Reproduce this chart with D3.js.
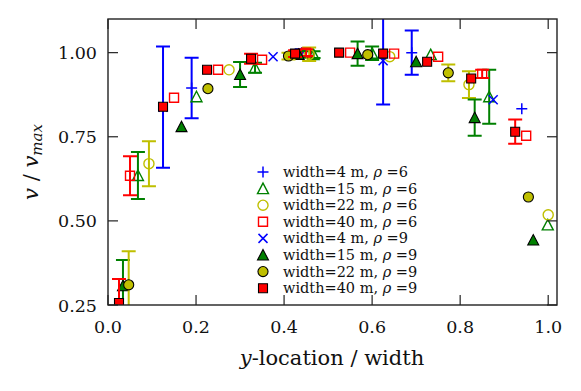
<!DOCTYPE html>
<html>
  <head>
    <meta charset="utf-8" />
    <title>Velocity profile</title>
    <script src="https://d3js.org/d3.v7.min.js"></script>
    <style>
        body {
            margin: 0;
            background: #fff;
        }
        text {
            font-family: "DejaVu Serif", "Liberation Serif", serif;
            fill: #111;
        }
    </style>
  </head>
  <body>
    <svg id="chart"></svg>

    <script>
        // series labels (legend order): [width part, rho value]
        var labelWidths = ["4", "15", "22", "40", "4", "15", "22", "40"];
        var labelRhos = ["6", "6", "6", "6", "9", "9", "9", "9"];

        // width=4 m, rho=6
        var x4a = [0.19, 0.44, 0.69, 0.94];
        var y4a = [0.895, 1.0, 1.0, 0.833];
        var e4a = [0.09, 0.01, 0.066, 0];
        // width=15 m, rho=6
        var x15a = [0.068, 0.201, 0.334, 0.467, 0.6, 0.733, 0.866, 0.999];
        var y15a = [0.635, 0.869, 0.955, 0.994, 0.998, 0.994, 0.869, 0.488];
        var e15a = [0.07, 0, 0.015, 0.01, 0.02, 0, 0.08, 0];
        // width=22 m, rho=6
        var x22a = [0.093, 0.275, 0.457, 0.64, 0.82, 1.0];
        var y22a = [0.67, 0.949, 0.995, 0.988, 0.905, 0.518];
        var e22a = [0.067, 0, 0.02, 0, 0.04, 0];
        // width=40 m, rho=6
        var x40a = [0.05, 0.15, 0.25, 0.35, 0.45, 0.55, 0.65, 0.75, 0.85, 0.95];
        var y40a = [0.634, 0.866, 0.949, 0.979, 1.0, 1.0, 0.997, 0.988, 0.937, 0.753];
        var e40a = [0.058, 0, 0, 0, 0.01, 0, 0, 0, 0.012, 0];
        // width=4 m, rho=9
        var x4b = [0.125, 0.375, 0.625, 0.875];
        var y4b = [0.838, 0.988, 0.976, 0.86];
        var e4b = [0.18, 0, 0.13, 0];
        // width=15 m, rho=9
        var x15b = [0.034, 0.167, 0.3, 0.433, 0.567, 0.7, 0.833, 0.966];
        var y15b = [0.307, 0.78, 0.935, 0.995, 0.997, 0.973, 0.807, 0.443];
        var e15b = [0.077, 0, 0.037, 0.01, 0.036, 0, 0.054, 0];
        // width=22 m, rho=9
        var x22b = [0.047, 0.227, 0.41, 0.59, 0.773, 0.955];
        var y22b = [0.31, 0.893, 0.99, 0.994, 0.94, 0.571];
        var e22b = [0.1, 0, 0.01, 0, 0.025, 0];
        // width=40 m, rho=9
        var x40b = [0.025, 0.125, 0.225, 0.325, 0.425, 0.525, 0.625, 0.725, 0.825, 0.925];
        var y40b = [0.256, 0.839, 0.949, 0.982, 0.997, 1.0, 0.997, 0.973, 0.923, 0.765];
        var e40b = [0.071, 0, 0, 0.015, 0.01, 0, 0, 0, 0, 0.036];

        var xTicks = [0, 0.2, 0.4, 0.6, 0.8, 1.0];
        var yTicks = [0.25, 0.5, 0.75, 1.0];

        var width = 581, height = 391;
        var margin = {top: 19, right: 24, bottom: 86, left: 108};

        var svg = d3.select("#chart")
            .attr("width", width)
            .attr("height", height);

        var x = d3.scaleLinear()
            .domain([0, 1.02])
            .range([margin.left, width - margin.right]);

        var y = d3.scaleLinear()
            .domain([0.25, 1.1])
            .range([height - margin.bottom, margin.top]);

        var blue = "#0000ff", green = "#008000", yellow = "#bfbf00", red = "#ff0000";

        // marker shapes, sized in pixels
        var shapes = {
            plus: "M-5.5,0H5.5M0,-5.5V5.5",
            cross: "M-4.5,-4.5L4.5,4.5M-4.5,4.5L4.5,-4.5",
            tri: "M0,-5.5L5.5,5L-5.5,5Z",
            circle: d3.symbol(d3.symbolCircle, 80)(),
            square: "M-4.5,-4.5H4.5V4.5H-4.5Z"
        };

        var series = [
            {xs: x4a, ys: y4a, es: e4a, color: blue, shape: "plus", filled: false},
            {xs: x15a, ys: y15a, es: e15a, color: green, shape: "tri", filled: false},
            {xs: x22a, ys: y22a, es: e22a, color: yellow, shape: "circle", filled: false},
            {xs: x40a, ys: y40a, es: e40a, color: red, shape: "square", filled: false},
            {xs: x4b, ys: y4b, es: e4b, color: blue, shape: "cross", filled: false},
            {xs: x15b, ys: y15b, es: e15b, color: green, shape: "tri", filled: true},
            {xs: x22b, ys: y22b, es: e22b, color: yellow, shape: "circle", filled: true},
            {xs: x40b, ys: y40b, es: e40b, color: red, shape: "square", filled: true}
        ];

        function styleMarker(sel, s) {
            if (s.shape == "plus" || s.shape == "cross") {
                sel.attr("fill", "none").attr("stroke", s.color).attr("stroke-width", 1.5);
            } else if (s.filled) {
                sel.attr("fill", s.color).attr("stroke", "#000").attr("stroke-width", 1.1);
            } else {
                sel.attr("fill", "none").attr("stroke", s.color).attr("stroke-width", 1.4);
            }
        }

        svg.append("clipPath").attr("id", "clip")
            .append("rect")
            .attr("x", margin.left).attr("y", margin.top)
            .attr("width", width - margin.left - margin.right)
            .attr("height", height - margin.top - margin.bottom);

        var plot = svg.append("g").attr("clip-path", "url(#clip)");

        series.forEach(function(s) {
            var pts = s.xs.map(function(d, i) { return {x: d, y: s.ys[i], e: s.es[i]}; });
            var g = plot.append("g");

            // error bars
            g.selectAll(".err")
                .data(pts.filter(function(d) { return d.e > 0; }))
                .enter().append("path")
                .attr("class", "err")
                .attr("fill", "none")
                .attr("stroke", s.color)
                .attr("stroke-width", 2)
                .attr("d", function(d) {
                    var cx = x(d.x), y0 = y(d.y - d.e), y1 = y(d.y + d.e);
                    return "M" + cx + "," + y0 + "V" + y1 +
                        "M" + (cx - 7) + "," + y0 + "H" + (cx + 7) +
                        "M" + (cx - 7) + "," + y1 + "H" + (cx + 7);
                });

            g.selectAll(".mk")
                .data(pts)
                .enter().append("path")
                .attr("class", "mk")
                .attr("d", shapes[s.shape])
                .attr("transform", function(d) { return "translate(" + x(d.x) + "," + y(d.y) + ")"; })
                .call(styleMarker, s);
        });

        // frame and inward ticks
        var axisColor = "#222";
        var x0 = margin.left, x1 = width - margin.right;
        var y0 = height - margin.bottom, y1 = margin.top;

        svg.append("rect")
            .attr("x", x0).attr("y", y1)
            .attr("width", x1 - x0).attr("height", y0 - y1)
            .attr("fill", "none").attr("stroke", axisColor).attr("stroke-width", 1.4);

        var ticks = svg.append("g").attr("stroke", axisColor).attr("stroke-width", 1.2);
        xTicks.forEach(function(t) {
            ticks.append("line").attr("x1", x(t)).attr("x2", x(t)).attr("y1", y0).attr("y2", y0 - 10);
            ticks.append("line").attr("x1", x(t)).attr("x2", x(t)).attr("y1", y1).attr("y2", y1 + 10);
        });
        yTicks.forEach(function(t) {
            ticks.append("line").attr("x1", x0).attr("x2", x0 + 10).attr("y1", y(t)).attr("y2", y(t));
            ticks.append("line").attr("x1", x1).attr("x2", x1 - 10).attr("y1", y(t)).attr("y2", y(t));
        });

        svg.append("g").selectAll("text")
            .data(xTicks)
            .enter().append("text")
            .attr("x", function(d) { return x(d); })
            .attr("y", 333)
            .attr("text-anchor", "middle")
            .attr("font-size", 17.5)
            .text(function(d) { return d3.format(".1f")(d); });

        svg.append("g").selectAll("text")
            .data(yTicks)
            .enter().append("text")
            .attr("x", 97)
            .attr("y", function(d) { return y(d) + 6.5; })
            .attr("text-anchor", "end")
            .attr("font-size", 17.5)
            .text(function(d) { return d3.format(".2f")(d); });

        // axis labels
        var xl = svg.append("text")
            .attr("x", 332)
            .attr("y", 365)
            .attr("text-anchor", "middle")
            .attr("font-size", 21);
        xl.append("tspan").attr("font-style", "italic").text("y");
        xl.append("tspan").text("-location / width");

        var yl = svg.append("text")
            .attr("transform", "translate(38,162) rotate(-90)")
            .attr("text-anchor", "middle")
            .attr("font-size", 21);
        yl.append("tspan").attr("font-style", "italic").text("v");
        yl.append("tspan").text(" / ");
        yl.append("tspan").attr("font-style", "italic").text("v");
        yl.append("tspan").attr("font-style", "italic").attr("font-size", 15).attr("dy", 4).text("max");

        // legend
        var legend = svg.append("g");
        series.forEach(function(s, i) {
            var ly = 172 + i * 16.6;
            legend.append("path")
                .attr("d", shapes[s.shape])
                .attr("transform", "translate(263," + ly + ")")
                .call(styleMarker, s);
            var t = legend.append("text")
                .attr("x", 283)
                .attr("y", ly + 5)
                .attr("font-size", 14.5);
            t.append("tspan").text("width=" + labelWidths[i] + " m, ");
            t.append("tspan").attr("font-style", "italic").text("\u03c1");
            t.append("tspan").text(" =" + labelRhos[i]);
        });
    </script>
  </body>
</html>
